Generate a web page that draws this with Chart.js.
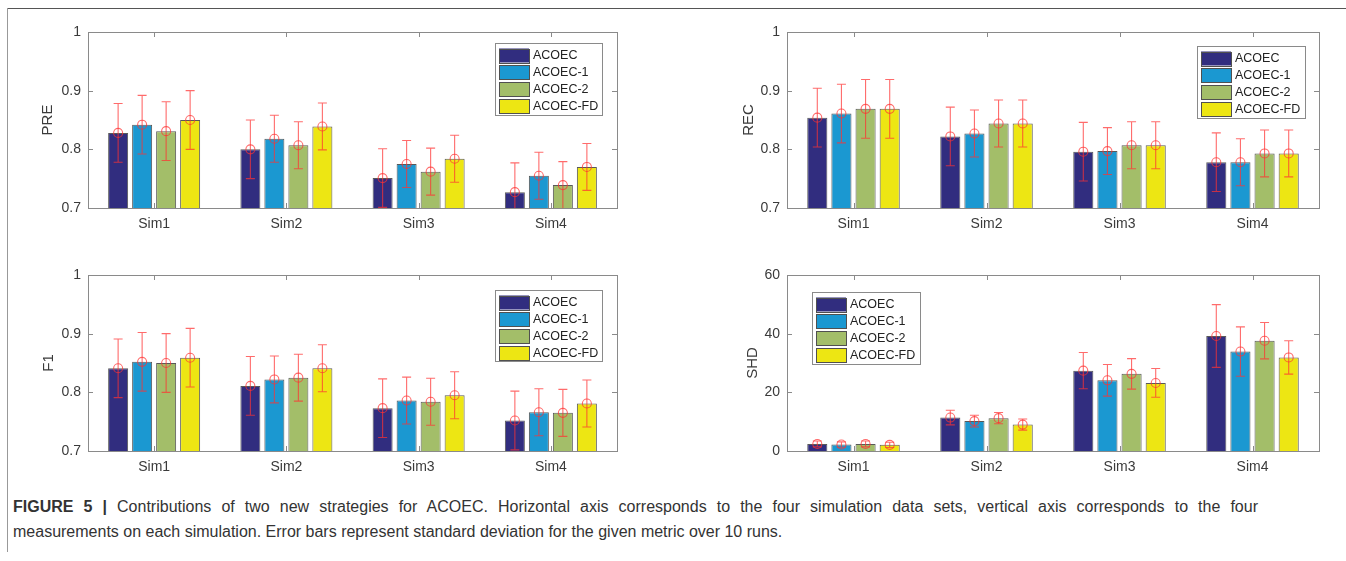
<!DOCTYPE html>
<html>
<head>
<meta charset="utf-8">
<script src="https://cdn.jsdelivr.net/npm/chart.js@4.4.1/dist/chart.umd.min.js"></script>
<style>
  html, body { margin: 0; padding: 0; background: #ffffff; }
  body { width: 1346px; height: 561px; position: relative; overflow: hidden; font-family: "Liberation Sans", Arial, sans-serif; }
  canvas { position: absolute; }
  #frameTop { position: absolute; left: 7px; top: 8px; width: 1339px; height: 0; border-top: 1.5px solid #555; }
  #frameLeft { position: absolute; left: 7px; top: 8px; width: 0; height: 544px; border-left: 1px solid #999; }
  .cap { position: absolute; left: 13px; font-size: 16px; line-height: 25px; color: #333; white-space: nowrap; }
  #cap1 { top: 494px; width: 1245px; text-align: justify; text-align-last: justify; white-space: normal; }
  #cap2 { top: 519px; }
  .cap b { color: #333; }
</style>
</head>
<body>
<div id="frameTop"></div>
<div id="frameLeft"></div>
<canvas id="cPRE" width="680" height="240" style="left:0px;top:0px;"></canvas>
<canvas id="cREC" width="666" height="240" style="left:680px;top:0px;"></canvas>
<canvas id="cF1" width="680" height="240" style="left:0px;top:240px;"></canvas>
<canvas id="cSHD" width="666" height="240" style="left:680px;top:240px;"></canvas>
<div id="cap1" class="cap"><b>FIGURE 5 |</b> Contributions of two new strategies for ACOEC. Horizontal axis corresponds to the four simulation data sets, vertical axis corresponds to the four</div>
<div id="cap2" class="cap">measurements on each simulation. Error bars represent standard deviation for the given metric over 10 runs.</div>
<script>
// ---------------- data ----------------
const categories = ['Sim1', 'Sim2', 'Sim3', 'Sim4'];
const seriesNames = ['ACOEC', 'ACOEC-1', 'ACOEC-2', 'ACOEC-FD'];

const preACOEC  = [0.828, 0.800, 0.751, 0.727];
const preACOEC1 = [0.842, 0.818, 0.775, 0.755];
const preACOEC2 = [0.831, 0.807, 0.762, 0.739];
const preFD     = [0.850, 0.839, 0.784, 0.770];
const preErrACOEC  = [0.05, 0.05, 0.05, 0.05];
const preErrACOEC1 = [0.05, 0.04, 0.04, 0.04];
const preErrACOEC2 = [0.05, 0.04, 0.04, 0.04];
const preErrFD     = [0.05, 0.04, 0.04, 0.04];

const recACOEC  = [0.854, 0.822, 0.796, 0.778];
const recACOEC1 = [0.861, 0.827, 0.797, 0.778];
const recACOEC2 = [0.869, 0.844, 0.807, 0.793];
const recFD     = [0.869, 0.844, 0.807, 0.793];
const recErrACOEC  = [0.05, 0.05, 0.05, 0.05];
const recErrACOEC1 = [0.05, 0.04, 0.04, 0.04];
const recErrACOEC2 = [0.05, 0.04, 0.04, 0.04];
const recErrFD     = [0.05, 0.04, 0.04, 0.04];

const f1ACOEC  = [0.841, 0.811, 0.773, 0.752];
const f1ACOEC1 = [0.852, 0.822, 0.786, 0.766];
const f1ACOEC2 = [0.850, 0.825, 0.784, 0.765];
const f1FD     = [0.859, 0.841, 0.795, 0.781];
const f1ErrACOEC  = [0.05, 0.05, 0.05, 0.05];
const f1ErrACOEC1 = [0.05, 0.04, 0.04, 0.04];
const f1ErrACOEC2 = [0.05, 0.04, 0.04, 0.04];
const f1ErrFD     = [0.05, 0.04, 0.04, 0.04];

const shdACOEC  = [2.4, 11.4, 27.4, 39.2];
const shdACOEC1 = [2.2, 10.2, 24.1, 33.9];
const shdACOEC2 = [2.4, 11.2, 26.3, 37.6];
const shdFD     = [2.1, 9.0, 23.2, 31.9];
const shdErrACOEC  = [1.0, 2.5, 6.2, 10.7];
const shdErrACOEC1 = [0.9, 2.0, 5.4, 8.4];
const shdErrACOEC2 = [1.0, 1.9, 5.2, 6.2];
const shdErrFD     = [0.9, 1.9, 4.9, 5.7];

const ratioTicks = [0.7, 0.8, 0.9, 1];
const shdTicks = [0, 20, 40, 60];

// ---------------- styling ----------------
const seriesColors = ['#312d7f', '#1b98d1', '#a3be69', '#ede613'];
const FONT = '"Liberation Sans", Arial, sans-serif';
const AXIS_COLOR = '#8a8a8a';
const TEXT_COLOR = '#3a3a3a';
const ERR_COLOR = 'rgba(255, 50, 50, 0.72)';

const boxTicksPlugin = {
  id: 'boxTicks',
  afterDatasetsDraw(chart) {
    const {ctx, chartArea: a, scales} = chart;
    ctx.save();
    ctx.strokeStyle = AXIS_COLOR;
    ctx.lineWidth = 1;
    ctx.strokeRect(Math.round(a.left) + 0.5, Math.round(a.top) + 0.5, Math.round(a.right - a.left), Math.round(a.bottom - a.top));
    const tl = 5;
    ctx.beginPath();
    scales.x.ticks.forEach((t, i) => {
      const x = Math.round(scales.x.getPixelForTick(i)) + 0.5;
      ctx.moveTo(x, a.bottom); ctx.lineTo(x, a.bottom - tl);
      ctx.moveTo(x, a.top); ctx.lineTo(x, a.top + tl);
    });
    scales.y.ticks.forEach((t, i) => {
      const y = Math.round(scales.y.getPixelForTick(i)) + 0.5;
      ctx.moveTo(a.left, y); ctx.lineTo(a.left + tl, y);
      ctx.moveTo(a.right, y); ctx.lineTo(a.right - tl, y);
    });
    ctx.stroke();
    ctx.restore();
  }
};

const errorBarPlugin = {
  id: 'errorBars',
  afterDatasetsDraw(chart) {
    const {ctx, chartArea: a} = chart;
    const y = chart.scales.y;
    ctx.save();
    ctx.beginPath();
    ctx.rect(a.left, a.top, a.right - a.left, a.bottom - a.top);
    ctx.clip();
    ctx.strokeStyle = ERR_COLOR;
    ctx.lineWidth = 1.1;
    chart.data.datasets.forEach((ds, di) => {
      const meta = chart.getDatasetMeta(di);
      meta.data.forEach((bar, i) => {
        const v = ds.data[i], e = ds.errors[i];
        const x = bar.x;
        const yHi = y.getPixelForValue(v + e);
        const yLo = y.getPixelForValue(v - e);
        const yC = y.getPixelForValue(v);
        const cap = 4.5;
        ctx.beginPath();
        ctx.moveTo(x, yLo); ctx.lineTo(x, yHi);
        ctx.moveTo(x - cap, yHi); ctx.lineTo(x + cap, yHi);
        ctx.moveTo(x - cap, yLo); ctx.lineTo(x + cap, yLo);
        ctx.stroke();
        ctx.beginPath();
        ctx.arc(x, yC, 4.5, 0, Math.PI * 2);
        ctx.stroke();
      });
    });
    ctx.restore();
  }
};

const boxLegendPlugin = {
  id: 'boxLegend',
  afterDraw(chart, args, opts) {
    if (!opts || opts.left === undefined) return;
    const ctx = chart.ctx;
    ctx.save();
    ctx.fillStyle = '#ffffff';
    ctx.fillRect(opts.left, opts.top, opts.width, opts.height);
    ctx.strokeStyle = '#8a8a8a';
    ctx.lineWidth = 1;
    ctx.strokeRect(Math.round(opts.left) + 0.5, Math.round(opts.top) + 0.5, opts.width, opts.height);
    ctx.font = '12.5px ' + FONT;
    ctx.textBaseline = 'middle';
    chart.data.datasets.forEach((ds, i) => {
      const cy = opts.top + 12.5 + i * 16.9;
      ctx.fillStyle = ds.backgroundColor;
      ctx.fillRect(opts.left + 4, cy - 7, 30, 14);
      ctx.strokeStyle = '#505050';
      ctx.strokeRect(Math.round(opts.left + 4) + 0.5, Math.round(cy - 7) + 0.5, 30, 14);
      ctx.fillStyle = '#222222';
      ctx.fillText(ds.label, opts.left + 38, cy + 0.5);
    });
    ctx.restore();
  }
};

function makeChart(id, yTitle, series, errs, tickValues, fmt, geo) {
  const datasets = series.map((vals, i) => ({
    label: seriesNames[i],
    data: vals,
    errors: errs[i],
    backgroundColor: seriesColors[i],
    borderColor: 'rgba(60,60,60,0.85)',
    borderWidth: 1,
    categoryPercentage: 0.726,
    barPercentage: 0.833
  }));
  return new Chart(document.getElementById(id), {
    type: 'bar',
    data: { labels: categories, datasets },
    options: {
      responsive: false,
      animation: false,
      devicePixelRatio: 1,
      layout: { padding: { left: 0, top: geo.top, right: geo.right, bottom: 0 } },
      plugins: {
        legend: { display: false },
        tooltip: { enabled: false },
        boxLegend: geo.legend
      },
      scales: {
        x: {
          type: 'category',
          offset: true,
          grid: { display: false, drawTicks: false },
          border: { display: false },
          ticks: { color: TEXT_COLOR, font: { family: FONT, size: 14 }, padding: 8 },
          afterFit: s => { s.height = geo.xh; }
        },
        y: {
          min: tickValues[0],
          max: tickValues[tickValues.length - 1],
          afterBuildTicks: s => { s.ticks = tickValues.map(v => ({ value: v })); },
          grid: { display: false, drawTicks: false },
          border: { display: false },
          ticks: { color: TEXT_COLOR, font: { family: FONT, size: 14 }, padding: 7, callback: v => fmt(v) },
          title: { display: true, text: yTitle, color: TEXT_COLOR, font: { family: FONT, size: 15 }, padding: { top: geo.titlePad, bottom: 0 } },
          afterFit: s => { s.width = geo.yw; }
        }
      }
    },
    plugins: [errorBarPlugin, boxTicksPlugin, boxLegendPlugin]
  });
}

const fmtRatio = v => String(Number(v.toFixed(2)));
const fmtInt = v => String(Math.round(v));

makeChart('cPRE', 'PRE',
  [preACOEC, preACOEC1, preACOEC2, preFD],
  [preErrACOEC, preErrACOEC1, preErrACOEC2, preErrFD],
  ratioTicks, fmtRatio,
  { top: 32, right: 63, xh: 32, yw: 88, titlePad: 39, legend: { left: 495, top: 43, width: 107, height: 72 } });

makeChart('cREC', 'REC',
  [recACOEC, recACOEC1, recACOEC2, recFD],
  [recErrACOEC, recErrACOEC1, recErrACOEC2, recErrFD],
  ratioTicks, fmtRatio,
  { top: 32, right: 27, xh: 32, yw: 107, titlePad: 60, legend: { left: 517, top: 46, width: 108, height: 72 } });

makeChart('cF1', 'F1',
  [f1ACOEC, f1ACOEC1, f1ACOEC2, f1FD],
  [f1ErrACOEC, f1ErrACOEC1, f1ErrACOEC2, f1ErrFD],
  ratioTicks, fmtRatio,
  { top: 35, right: 63, xh: 29, yw: 88, titlePad: 40, legend: { left: 495, top: 50, width: 107, height: 71 } });

makeChart('cSHD', 'SHD',
  [shdACOEC, shdACOEC1, shdACOEC2, shdFD],
  [shdErrACOEC, shdErrACOEC1, shdErrACOEC2, shdErrFD],
  shdTicks, fmtInt,
  { top: 35, right: 27, xh: 29, yw: 107, titlePad: 64, legend: { left: 132, top: 52, width: 108, height: 72 } });
</script>
</body>
</html>
